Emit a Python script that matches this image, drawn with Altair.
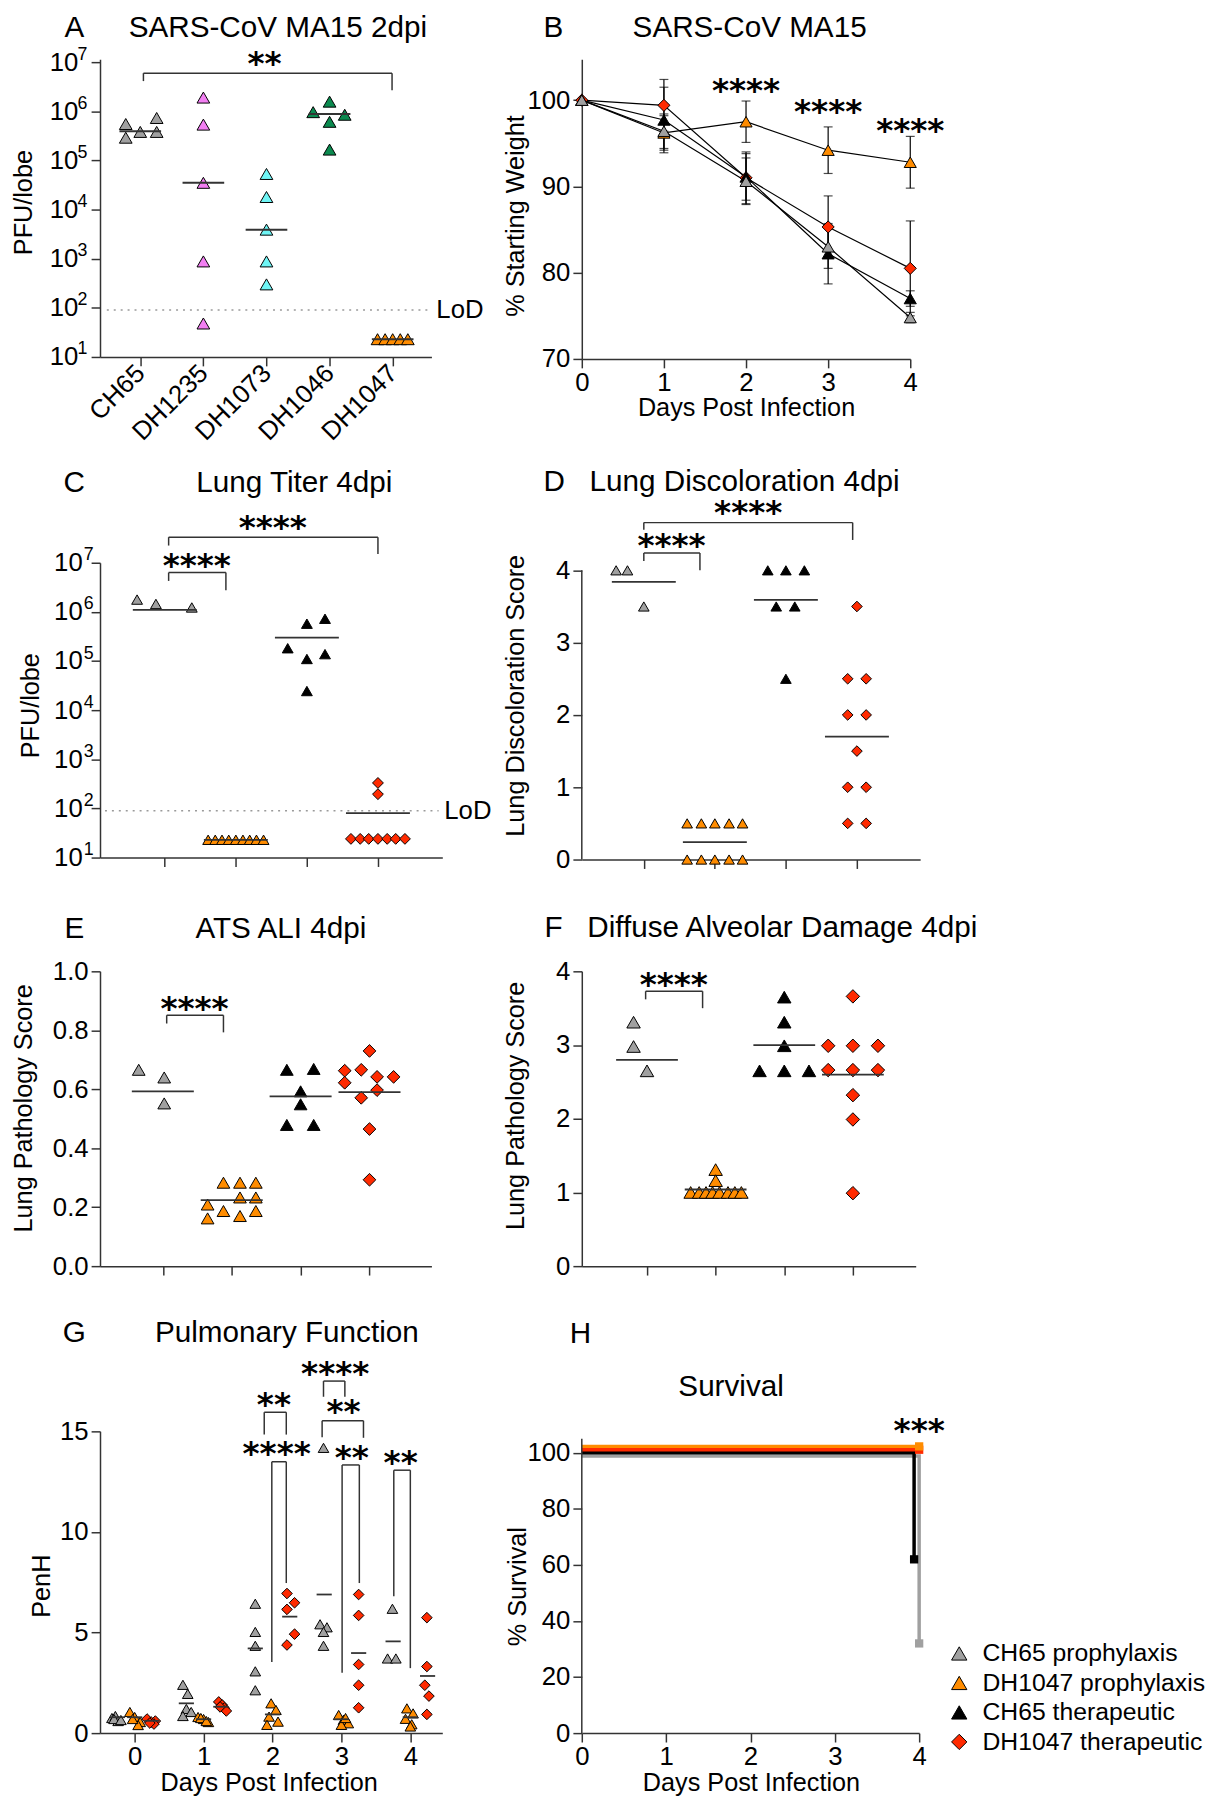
import math
import altair as alt
import pandas as pd

FONT = "Liberation Sans"
STAR_FONT = "DejaVu Sans"
AXC = "#333333"
GRAY, ORANGE, BLACK, RED = "#a0a0a0", "#ff8c00", "#000000", "#ff2a00"
PINK, CYAN, GREEN = "#f27ff2", "#6ff5f5", "#0b8a4f"
TRI, DIA = "triangle-up", "diamond"

# ======================= DATA =======================
# ---- A: SARS-CoV MA15 2dpi (PFU/lobe) ----
A_GROUPS = ["CH65", "DH1235", "DH1073", "DH1046", "DH1047"]
A_COLORS = [GRAY, PINK, CYAN, GREEN, ORANGE]
A_CH65 = [5.5e5, 2.9e5, 3.8e5, 7.3e5, 3.8e5]
A_DH1235 = [1.9e6, 5.35e5, 3.5e4, 880, 48]
A_DH1073 = [5.3e4, 1.8e4, 3.9e3, 880, 300]
A_DH1046 = [9.6e5, 1.57e6, 6.1e5, 8.5e5, 1.66e5]
A_DH1047 = [23, 23, 23, 23, 23]
A_MEDIAN = [3.9e5, 3.5e4, 3.9e3, 8.8e5, 23]
A_JITTER = [[-0.23, -0.23, 0.0, 0.26, 0.26], [0, 0, 0, 0, 0], [0, 0, 0, 0, 0],
            [-0.26, 0, 0, 0.24, 0], [-0.24, -0.12, 0, 0.12, 0.24]]
LOD = 90
LOG_TICKS = [10, 100, 1e3, 1e4, 1e5, 1e6, 1e7]

# ---- treatment groups (B-H) ----
TX = ["CH65 prophylaxis", "DH1047 prophylaxis", "CH65 therapeutic", "DH1047 therapeutic"]
TX_COLORS = [GRAY, ORANGE, BLACK, RED]
TX_SHAPES = [TRI, TRI, TRI, DIA]

# ---- B: weight (% starting) ----
DAYS = [0, 1, 2, 3, 4]
B_MEAN = [[100, 96.4, 90.6, 83.0, 74.8],
          [100, 96.2, 97.5, 94.2, 92.8],
          [100, 97.7, 91.1, 82.2, 77.0],
          [100, 99.4, 91.0, 85.3, 80.5]]
B_SD = [[0, 2.0, 2.7, 2.5, 0.6],
        [0, 2.0, 2.4, 2.7, 3.0],
        [0, 3.8, 2.7, 3.5, 0.9],
        [0, 3.0, 3.0, 3.6, 5.5]]
B_STARS = [(2, 101.5, "****"), (3, 99.1, "****"), (4, 96.9, "****")]

# ---- C: lung titer 4dpi ----
C_VALUES = [[1.78e6, 1.45e6, 1.23e6],
            [23, 23, 23, 23, 23, 23, 23, 23, 23],
            [5.75e5, 7.24e5, 1.82e5, 1.1e5, 1.38e5, 2.45e4],
            [330, 195, 24, 24, 24, 24, 24, 24, 24]]
C_JITTER = [[-0.39, -0.125, 0.38],
            [-0.39, -0.29, -0.195, -0.1, 0, 0.1, 0.195, 0.29, 0.39],
            [0, 0.255, -0.27, 0, 0.255, 0],
            [0, 0, -0.38, -0.25, -0.13, 0, 0.13, 0.25, 0.38]]
C_MEAN = [1.1e6, 23, 3.0e5, 80]
C_BRACKETS = [(1.054, 1.86, 10**6.80, 10**6.63, 10**6.44),
              (1.054, 4.0, 10**7.52, 10**7.35, 10**7.18)]
C_STARS = [(1.45, 10**7.01, "****"), (2.52, 10**7.78, "****")]

# ---- D: lung discoloration score ----
D_VALUES = [[4, 4, 3.5],
            [0.5, 0.5, 0.5, 0.5, 0.5, 0, 0, 0, 0, 0],
            [4, 4, 4, 3.5, 3.5, 2.5],
            [3.5, 2.5, 2.5, 2, 2, 1.5, 1, 1, 0.5, 0.5]]
D_JITTER = [[-0.39, -0.23, 0],
            [-0.39, -0.19, 0, 0.2, 0.39, -0.39, -0.19, 0, 0.2, 0.39],
            [-0.255, 0, 0.26, -0.136, 0.125, 0],
            [0, -0.13, 0.13, -0.13, 0.13, 0, -0.13, 0.13, -0.13, 0.13]]
D_MEAN = [3.84, 0.24, 3.59, 1.70]
D_BRACKETS = [(1.0, 1.79, 4.24, 4.13, 4.0), (1.0, 3.94, 4.66, 4.56, 4.42)]
D_STARS = [(1.39, 4.39, "****"), (2.47, 4.84, "****")]

# ---- E: ATS ALI 4dpi ----
E_VALUES = [[0.666, 0.640, 0.552],
            [0.283, 0.283, 0.283, 0.233, 0.233, 0.209, 0.187, 0.187, 0.162, 0.170],
            [0.666, 0.669, 0.593, 0.549, 0.479, 0.479],
            [0.663, 0.666, 0.622, 0.642, 0.642, 0.730, 0.571, 0.597, 0.465, 0.293]]
E_JITTER = [[-0.35, 0.02, 0.02],
            [-0.12, 0.12, 0.35, 0.12, 0.35, -0.35, -0.12, 0.35, -0.35, 0.12],
            [-0.2, 0.19, 0, 0, -0.2, 0.19],
            [-0.36, -0.12, -0.36, 0.11, 0.35, 0, -0.12, 0.11, 0, 0]]
E_MEAN = [0.593, 0.224, 0.576, 0.590]
E_BRACKETS = [(1.056, 1.88, 0.851, 0.823, 0.793)]
E_STARS = [(1.46, 0.885, "****")]

# ---- F: diffuse alveolar damage 4dpi ----
F_VALUES = [[3.31, 2.98, 2.65],
            [1.31, 1.16, 1, 1, 1, 1, 1, 1, 1, 1],
            [3.65, 3.31, 2.99, 2.65, 2.65, 2.65],
            [3.66, 2.99, 2.99, 2.99, 2.66, 2.66, 2.66, 2.32, 1.99, 0.99]]
F_JITTER = [[-0.196, -0.196, 0],
            [0, 0, -0.364, -0.24, -0.14, -0.045, 0.056, 0.18, 0.28, 0.375],
            [0, 0, 0, -0.36, 0, 0.36],
            [0, -0.36, 0, 0.365, -0.36, 0, 0.365, 0, 0, 0]]
F_MEAN = [2.80, 1.04, 3.0, 2.60]
F_BRACKETS = [(0.98, 1.81, 3.73, 3.62, 3.50)]
F_STARS = [(1.39, 3.87, "****")]

# ---- G: pulmonary function (PenH) ----
G_GROUPS = ["CH65 prophylaxis", "DH1047 prophylaxis", "DH1047 therapeutic"]
G_VALUES = [
    [[0.75, 0.85, 0.6, 0.7, 0.65], [2.4, 1.95, 1.2, 1.05, 0.85], [6.43, 5.03, 4.34, 3.07, 2.13],
     [14.18, 5.41, 5.26, 5.03, 4.34], [6.18, 3.71, 3.71]],
    [[1.05, 0.8, 0.55, 0.4, 0.7], [0.8, 0.7, 0.55, 0.75, 0.6], [1.48, 1.15, 0.82, 0.57, 0.41],
     [0.9, 0.66, 0.49, 0.41, 0.75], [1.23, 0.98, 0.71, 0.44, 0.33]],
    [[0.7, 0.55, 0.6, 0.45, 0.5], [1.55, 1.4, 1.25, 1.1, 1.3], [6.94, 6.15, 6.48, 4.92, 4.38],
     [6.89, 5.85, 3.41, 2.38, 1.26], [5.74, 3.31, 2.38, 1.84, 0.93]],
]
G_JITTER = [
    [[-0.33, -0.28, -0.24, -0.3, -0.2], [-0.3, -0.23, -0.25, -0.18, -0.3], [-0.25] * 5,
     [-0.26, -0.31, -0.21, -0.26, -0.26], [-0.26, -0.33, -0.21]],
    [[-0.07, 0, 0.08, 0.05, -0.03], [-0.08, 0, 0.07, -0.04, 0.04], [-0.02, 0.05, -0.05, 0.08, -0.08],
     [-0.04, 0.03, 0.1, 0, 0.06], [-0.05, 0.04, -0.07, 0.02, 0]],
    [[0.18, 0.24, 0.3, 0.28, 0.22], [0.22, 0.27, 0.3, 0.33, 0.24], [0.21, 0.21, 0.32, 0.32, 0.21],
     [0.25] * 5, [0.24, 0.24, 0.21, 0.27, 0.24]],
]
G_MEAN = [[0.79, 1.48, 4.21, 6.89, 4.56], [0.79, 0.69, 0.93, 0.69, 0.79], [0.61, 1.31, 5.79, 3.98, 2.84]]
G_DODGE = [-0.25, 0.0, 0.25]
G_BRACKETS = [(1.88, 2.20, 15.95, 14.84, 14.84), (1.99, 2.20, 13.49, 3.53, 7.46),
              (2.74, 3.05, 17.5, 16.72, 16.72), (2.72, 3.32, 15.53, 14.71, 14.68),
              (3.01, 3.26, 13.33, 3.0, 7.46), (3.76, 4.0, 13.07, 6.8, 3.23)]
G_STARS = [(2.02, 16.51, "**"), (2.06, 14.05, "****"), (2.91, 18.05, "****"),
           (3.03, 16.15, "**"), (3.15, 13.89, "**"), (3.86, 13.61, "**")]

# ---- H: survival ----
H_FINAL = [32, 100, 62, 100]          # % surviving at day 4
H_NUDGE_Y = [-1.1, 2.3, 0.0, 1.1]     # visual offset of overlapping curves
H_NUDGE_X = [0.0, 0.0, -0.06, 0.0]
H_ORDER = [0, 2, 3, 1]                # drawing order (gray, black, red, orange)
H_STARS = [(4.0, 109.1, "***")]
H_SUBTITLE = (1.77, 123.3, "Survival")


# ======================= HELPERS =======================
def lin(d):
    return alt.Scale(domain=d, nice=False, zero=False)


def logs(d):
    return alt.Scale(type="log", domain=d, nice=False)


def axis(**kw):
    base = dict(grid=False, domainColor=AXC, domainWidth=1.5, tickColor=AXC, tickWidth=1.5,
                tickSize=9, labelFont=FONT, labelFontSize=26, labelColor="black", labelPadding=3,
                labelFlush=False, labelOverlap=False, titleFont=FONT, titleFontSize=25.5,
                titleFontWeight="normal", titleColor="black", titleBaseline="alphabetic",
                titleAlign="center")
    base.update(kw)
    return alt.Axis(**base)


def px(field, sc, ax=None):
    return alt.X(field, scale=sc) if ax is None else alt.X(field, scale=sc, axis=ax)


def py(field, sc, ax=None):
    return alt.Y(field, scale=sc) if ax is None else alt.Y(field, scale=sc, axis=ax)


def scatter_df(groups, values, jitter):
    rows = []
    for i, (g, vals, jit) in enumerate(zip(groups, values, jitter)):
        for v, j in zip(vals, jit):
            rows.append({"g": g, "x": i + 1 + j, "y": v})
    return pd.DataFrame(rows)


def mean_df(means, hw):
    return pd.DataFrame([{"x": i + 1 - hw, "x2": i + 1 + hw, "y": m} for i, m in enumerate(means)])


def bracket_df(brs):
    rows = []
    for x1, x2, yb, yl, yr in brs:
        rows += [{"x": x1, "x2": x2, "y": yb, "y2": yb},
                 {"x": x1, "x2": x1, "y": yb, "y2": yl},
                 {"x": x2, "x2": x2, "y": yb, "y2": yr}]
    return pd.DataFrame(rows)


def star_df(stars):
    return pd.DataFrame([{"x": x, "y": y, "t": t} for x, y, t in stars])


def points(df, sx, sy, groups, colors, shapes, size, ax_x, ax_y):
    return alt.Chart(df).mark_point(filled=True, opacity=1, stroke="black", strokeWidth=1,
                                    size=size).encode(
        x=px("x:Q", sx, ax_x),
        y=py("y:Q", sy, ax_y),
        color=alt.Color("g:N", scale=alt.Scale(domain=groups, range=colors), legend=None),
        shape=alt.Shape("g:N", scale=alt.Scale(domain=groups, range=shapes), legend=None),
    )


def mean_rules(df, sx, sy, width=1.8):
    return alt.Chart(df).mark_rule(color=AXC, strokeWidth=width).encode(
        x=px("x:Q", sx), x2="x2:Q", y=py("y:Q", sy))


def bracket_rules(df, sx, sy):
    return alt.Chart(df).mark_rule(color=AXC, strokeWidth=1.5).encode(
        x=px("x:Q", sx), x2="x2:Q", y=py("y:Q", sy), y2="y2:Q")


def star_text(df, sx, sy, size=33):
    return alt.Chart(df).mark_text(font=STAR_FONT, fontWeight="bold", fontSize=size,
                                   align="center", baseline="alphabetic", dy=14,
                                   color="black").encode(
        x=px("x:Q", sx), y=py("y:Q", sy), text="t:N")


def ptitle(text, dx, offset):
    return alt.TitleParams(text=text, anchor="start", frame="group", dx=dx, offset=offset,
                           font=FONT, fontSize=30, fontWeight="normal", color="black")


def yline(x0, y0, y1, sx, sy):
    return alt.Chart(pd.DataFrame({"x": [x0], "y": [y0], "y2": [y1]})).mark_rule(
        color=AXC, strokeWidth=1.5).encode(x=px("x:Q", sx), y=py("y:Q", sy), y2="y2:Q")


def lod_layers(sx, sy, x0, x1, xlab, dx):
    line = alt.Chart(pd.DataFrame({"x": [x0], "x2": [x1], "y": [LOD]})).mark_rule(
        color="#9a9a9a", strokeDash=[2, 5], strokeWidth=1.5).encode(
        x=px("x:Q", sx), x2="x2:Q", y=py("y:Q", sy))
    lab = alt.Chart(pd.DataFrame({"x": [xlab], "y": [LOD], "t": ["LoD"]})).mark_text(
        font=FONT, fontSize=26, align="left", baseline="middle", dx=dx, color="black").encode(
        x=px("x:Q", sx), y=py("y:Q", sy), text="t:N")
    return line, lab


def exponents(sx, sy, xmin, dx, dy=-7.5):
    df = pd.DataFrame({"x": [xmin] * len(LOG_TICKS), "y": LOG_TICKS,
                       "t": [str(int(round(math.log10(v)))) for v in LOG_TICKS]})
    return alt.Chart(df).mark_text(font=FONT, fontSize=18, align="center", baseline="middle",
                                   dx=dx, dy=dy, color="black").encode(
        x=px("x:Q", sx), y=py("y:Q", sy), text="t:N")


# ======================= PANEL A =======================
sxA, syA = lin([0.362, 5.614]), logs([10, 10 ** 7.06])
dfA = scatter_df(A_GROUPS, [A_CH65, A_DH1235, A_DH1073, A_DH1046, A_DH1047], A_JITTER)
axA_x = axis(values=[1, 2, 3, 4, 5], title=None, labelAngle=-45, labelAlign="right",
             labelBaseline="middle",
             labelExpr="['','CH65','DH1235','DH1073','DH1046','DH1047'][round(datum.value)]")
axA_y = axis(values=LOG_TICKS, labelExpr="'10'", labelPadding=13.5, title="PFU/lobe",
             titleX=-68.8, titleY=144.5, titleAngle=270)
a_lod, a_lodlab = lod_layers(sxA, syA, 0.47, 5.566, 5.614, 5)
A = alt.layer(
    points(dfA, sxA, syA, A_GROUPS, A_COLORS, [TRI] * 5, 165, axA_x, axA_y),
    a_lod,
    mean_rules(mean_df(A_MEDIAN, 0.33), sxA, syA, 2),
    bracket_rules(bracket_df([(1.05, 4.99, 10 ** 6.775, 10 ** 6.614, 10 ** 6.426)]), sxA, syA),
    star_text(star_df([(2.97, 10 ** 7.036, "**")]), sxA, syA),
    a_lodlab,
    exponents(sxA, syA, 0.362, -17.7),
).properties(width=335, height=301,
             title=ptitle("A\u2003\u2002SARS-CoV MA15 2dpi", -36, 3))

# ======================= PANEL B =======================
sxB, syB = lin([0, 4]), lin([70, 104.75])
b_rows, b_err, b_cap = [], [], []
for gi in [1, 3, 2, 0]:
    for d, m, s in zip(DAYS, B_MEAN[gi], B_SD[gi]):
        b_rows.append({"g": TX[gi], "x": d, "y": m})
        if s > 0:
            b_err.append({"x": d, "y": m - s, "y2": m + s})
            b_cap += [{"x": d, "y": m - s}, {"x": d, "y": m + s}]
dfB = pd.DataFrame(b_rows)
axB_x = axis(values=DAYS, format="d", labelPadding=2, title="Days Post Infection", titleX=166,
             titleY=56.7)
axB_y = axis(values=[70, 80, 90, 100], format="d", title="% Starting Weight", titleX=-59,
             titleY=158, titleAngle=270)
b_lines = alt.Chart(dfB).mark_line(color="black", strokeWidth=1.2).encode(
    x=px("x:Q", sxB, axB_x), y=py("y:Q", syB, axB_y), detail="g:N")
b_errs = alt.Chart(pd.DataFrame(b_err)).mark_rule(color="black", strokeWidth=1.2).encode(
    x=px("x:Q", sxB), y=py("y:Q", syB), y2="y2:Q")
b_caps = alt.Chart(pd.DataFrame(b_cap)).mark_tick(color="black", orient="horizontal", size=9,
                                                  thickness=1.2).encode(
    x=px("x:Q", sxB), y=py("y:Q", syB))
B = alt.layer(
    b_lines, b_errs, b_caps,
    points(dfB, sxB, syB, TX, TX_COLORS, TX_SHAPES, 150, None, None),
    star_text(star_df(B_STARS), sxB, syB),
).properties(width=332, height=303,
             title=ptitle("B\u2003\u2003\u2004SARS-CoV MA15", -38.6, 16))

# ======================= PANEL C =======================
sxC, syC = lin([0.088, 4.906]), logs([10, 1e7])
axC_x = axis(values=[1, 2, 3, 4], labels=False, title=None)
axC_y = axis(values=LOG_TICKS, labelExpr="'10'", labelPadding=9, title="PFU/lobe",
             titleX=-62.2, titleY=144, titleAngle=270)
c_lod, c_lodlab = lod_layers(sxC, syC, 0.158, 4.854, 4.906, 2)
C = alt.layer(
    points(scatter_df(TX, C_VALUES, C_JITTER), sxC, syC, TX, TX_COLORS, TX_SHAPES, 120,
           axC_x, axC_y),
    c_lod,
    mean_rules(mean_df(C_MEAN, 0.45), sxC, syC),
    bracket_rules(bracket_df(C_BRACKETS), sxC, syC),
    star_text(star_df(C_STARS), sxC, syC),
    c_lodlab,
    exponents(sxC, syC, 0.088, -11.4),
).properties(width=346, height=298,
             title=ptitle("C\u2003\u2003\u2003\u2002\u2005Lung Titer 4dpi", -36.8, 15))

# ======================= PANEL D =======================
D_X0 = 0.127
sxD, syD = lin([D_X0, 4.89]), lin([0, 4.105])
axD_x = axis(values=[1, 2, 3, 4], labels=False, title=None)
axD_y = axis(values=[0, 1, 2, 3, 4], format="d", domain=False,
             title="Lung Discoloration Score", titleX=-59, titleY=134, titleAngle=270)
D = alt.layer(
    points(scatter_df(TX, D_VALUES, D_JITTER), sxD, syD, TX, TX_COLORS, TX_SHAPES, 115,
           axD_x, axD_y),
    yline(D_X0, 0, 4, sxD, syD),
    mean_rules(mean_df(D_MEAN, 0.45), sxD, syD),
    bracket_rules(bracket_df(D_BRACKETS), sxD, syD),
    star_text(star_df(D_STARS), sxD, syD),
).properties(width=342, height=300,
             title=ptitle("D\u2002\u2004Lung Discoloration 4dpi", -38.8, 0.3))

# ======================= PANEL E =======================
sxE, syE = lin([0.088, 4.899]), lin([0, 1])
axE_x = axis(values=[1, 2, 3, 4], labels=False, title=None)
axE_y = axis(values=[0, 0.2, 0.4, 0.6, 0.8, 1.0], format=".1f", title="Lung Pathology Score",
             titleX=-69, titleY=138, titleAngle=270)
E = alt.layer(
    points(scatter_df(TX, E_VALUES, E_JITTER), sxE, syE, TX, TX_COLORS, TX_SHAPES, 165,
           axE_x, axE_y),
    mean_rules(mean_df(E_MEAN, 0.45), sxE, syE),
    bracket_rules(bracket_df(E_BRACKETS), sxE, syE),
    star_text(star_df(E_STARS), sxE, syE),
).properties(width=335, height=298,
             title=ptitle("E\u2003\u2003\u2003\u2002\u2005ATS ALI 4dpi", -36, 14.5))

# ======================= PANEL F =======================
sxF, syF = lin([0.05, 4.915]), lin([0, 4])
axF_x = axis(values=[1, 2, 3, 4], labels=False, title=None)
axF_y = axis(values=[0, 1, 2, 3, 4], format="d", title="Lung Pathology Score", titleX=-59,
             titleY=135.5, titleAngle=270)
F = alt.layer(
    points(scatter_df(TX, F_VALUES, F_JITTER), sxF, syF, TX, TX_COLORS, TX_SHAPES, 185,
           axF_x, axF_y),
    mean_rules(mean_df(F_MEAN, 0.45), sxF, syF),
    bracket_rules(bracket_df(F_BRACKETS), sxF, syF),
    star_text(star_df(F_STARS), sxF, syF),
).properties(width=337.5, height=298,
             title=ptitle("F\u2002\u2004Diffuse Alveolar Damage 4dpi", -37.8, 16))

# ======================= PANEL G =======================
sxG, syG = lin([-0.503, 4.464]), lin([0, 15])
g_rows, g_means = [], []
for gi, g in enumerate(G_GROUPS):
    for d in DAYS:
        for v, j in zip(G_VALUES[gi][d], G_JITTER[gi][d]):
            g_rows.append({"g": g, "x": d + j, "y": v})
        c = d + G_DODGE[gi]
        g_means.append({"x": c - 0.11, "x2": c + 0.11, "y": G_MEAN[gi][d]})
axG_x = axis(values=DAYS, format="d", labelPadding=2, title="Days Post Infection",
             titleX=170.5, titleY=58)
axG_y = axis(values=[0, 5, 10, 15], format="d", title="PenH", titleX=-51.3, titleY=156,
             titleAngle=270)
G = alt.layer(
    points(pd.DataFrame(g_rows), sxG, syG, G_GROUPS, [GRAY, ORANGE, RED], [TRI, TRI, DIA], 115,
           axG_x, axG_y),
    mean_rules(pd.DataFrame(g_means), sxG, syG),
    bracket_rules(bracket_df(G_BRACKETS), sxG, syG),
    star_text(star_df(G_STARS), sxG, syG),
).properties(width=346, height=305,
             title=ptitle("G\u2003\u2003\u2004Pulmonary Function", -37.7, 9.9))

# ======================= PANEL H =======================
sxH, syH = lin([0, 4]), lin([0, 107.66])
h_rows, h_ends = [], []
for k, gi in enumerate(H_ORDER):
    g = TX[gi]
    top = 100 + H_NUDGE_Y[gi]
    xe = 4 + H_NUDGE_X[gi]
    end = H_FINAL[gi] if H_FINAL[gi] < 100 else top
    h_rows += [{"g": g, "i": 0, "x": 0, "y": top, "o": k},
               {"g": g, "i": 1, "x": xe, "y": top, "o": k},
               {"g": g, "i": 2, "x": xe, "y": end, "o": k}]
    h_ends.append({"g": g, "x": xe, "y": end, "o": k})
axH_x = axis(values=DAYS, format="d", labelPadding=2, title="Days Post Infection", titleX=171,
             titleY=58)
axH_y = axis(values=[0, 20, 40, 60, 80, 100], format="d", domain=False, title="% Survival",
             titleX=-57, titleY=156.5, titleAngle=270)
h_color = alt.Scale(domain=TX, range=TX_COLORS)
h_lines = alt.Chart(pd.DataFrame(h_rows)).mark_line(strokeWidth=3.5).encode(
    x=px("x:Q", sxH, axH_x), y=py("y:Q", syH, axH_y),
    color=alt.Color("g:N", scale=h_color, legend=None), detail="g:N", order="i:Q")
h_sq = alt.Chart(pd.DataFrame(h_ends)).mark_square(size=70, opacity=1).encode(
    x=px("x:Q", sxH), y=py("y:Q", syH),
    color=alt.Color("g:N", scale=h_color, legend=None), order="o:Q")
leg = alt.Legend(orient="none", legendX=369, legendY=212, title=None, padding=0,
                 labelFont=FONT, labelFontSize=25, labelColor="black", labelLimit=400,
                 symbolSize=240, symbolStrokeColor="black", symbolStrokeWidth=1,
                 rowPadding=3.8, labelOffset=11)
h_leg = alt.Chart(pd.DataFrame({"g": TX, "x": [0] * 4, "y": [-50] * 4})).mark_point(
    filled=True, opacity=1, stroke="black", strokeWidth=1, size=240, clip=True).encode(
    x=px("x:Q", sxH), y=py("y:Q", syH),
    color=alt.Color("g:N", scale=alt.Scale(domain=TX, range=TX_COLORS), legend=leg),
    shape=alt.Shape("g:N", scale=alt.Scale(domain=TX, range=TX_SHAPES), legend=leg))
h_sub = alt.Chart(star_df([H_SUBTITLE])).mark_text(
    font=FONT, fontSize=30, align="center", baseline="middle", color="black").encode(
    x=px("x:Q", sxH), y=py("y:Q", syH), text="t:N")
H = alt.layer(
    h_lines,
    yline(0, 0, 105, sxH, syH),
    h_sq,
    star_text(star_df(H_STARS), sxH, syH),
    h_sub,
    h_leg,
).resolve_scale(color="independent", shape="independent").properties(
    width=341, height=305, title=ptitle("H", -12.1, 24.1))


# ======================= LAYOUT =======================
def spacer(h):
    return alt.Chart(pd.DataFrame({"v": [0]})).mark_point(opacity=0).encode(
        x=alt.X("v:Q", axis=None), y=alt.Y("v:Q", axis=None)).properties(width=1, height=h)


chart = alt.concat(
    A, B, spacer(409),
    C, D, spacer(313),
    E, F, spacer(365),
    G, H, spacer(1),
    columns=3, spacing={"row": 100, "column": 141}, bounds="flush", align="each",
).resolve_scale(
    x="independent", y="independent", color="independent", shape="independent"
).properties(
    padding={"left": 3, "top": -6, "right": 5, "bottom": 5}
).configure(font=FONT).configure_axis(grid=False).configure_view(stroke="transparent")

chart.save("out.html", embed_options={"renderer": "svg", "actions": False})
